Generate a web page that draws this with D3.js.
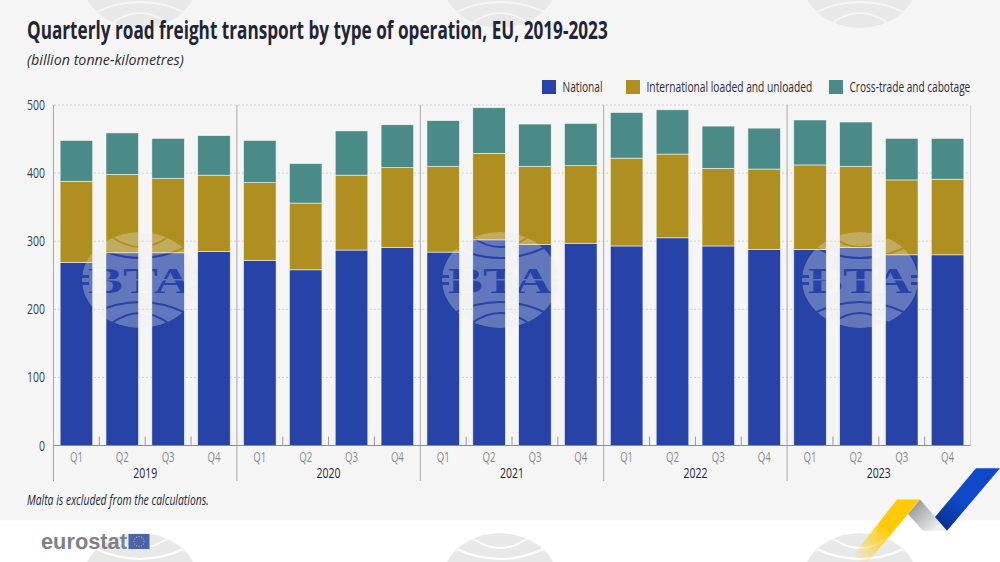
<!DOCTYPE html>
<html>
<head>
<meta charset="utf-8">
<script src="https://cdn.jsdelivr.net/npm/d3@7"></script>
<style>
  html, body { margin: 0; padding: 0; background: #fff; }
  svg { display: block; }
  text { font-family: "Open Sans", "Noto Sans", sans-serif; }
</style>
</head>
<body>
<svg id="chart" width="1000" height="562"></svg>
<script>
var years = ["2019", "2020", "2021", "2022", "2023"];
var quarters = ["Q1", "Q2", "Q3", "Q4"];
var seriesNames = ["National", "International loaded and unloaded", "Cross-trade and cabotage"];
var yTicks = [0, 100, 200, 300, 400, 500];

var national = [269, 283, 283, 285, 272, 258, 287, 291, 284, 302, 295, 297, 293, 305, 293, 288, 288, 291, 280, 280];
var international = [119, 115, 109, 112, 114, 98, 110, 117, 126, 127, 115, 114, 129, 123, 114, 118, 124, 119, 110, 111];
var crossTrade = [60, 61, 59, 58, 62, 58, 65, 63, 67, 67, 62, 62, 67, 65, 62, 60, 66, 65, 61, 60];

var colors = ["#2743a8", "#ae8f20", "#4a8b88"];

var svg = d3.select("#chart");
var defs = svg.append("defs");

var keys = [];
years.forEach(function(y) {
  quarters.forEach(function(q) { keys.push(y + q); });
});

var rows = keys.map(function(k, i) {
  return { key: k, s0: national[i], s1: international[i], s2: crossTrade[i] };
});
var stacked = d3.stack().keys(["s0", "s1", "s2"])(rows);

var x = d3.scaleBand().domain(keys).range([53.5, 970.5]).paddingInner(0.29).paddingOuter(0.145);
var y = d3.scaleLinear().domain([0, 500]).range([445.5, 105]);
var step = x.step();
var left = function(k) { return x(k) - step * 0.145; };

// no condensed font here, so scale the text sideways to the wanted width
function squeeze(sel, width) {
  sel.each(function(d, i) {
    var t = d3.select(this);
    var w = typeof width === "function" ? width(d, i) : width;
    var px = +t.attr("x"), py = +t.attr("y");
    var k = w / this.getComputedTextLength();
    t.attr("x", 0).attr("y", 0)
      .attr("transform", "translate(" + px + "," + py + ") scale(" + k + ",1)");
  });
}

// page background
svg.append("rect").attr("width", 1000).attr("height", 562).attr("fill", "#fff");
svg.append("rect").attr("width", 1000).attr("height", 520.5).attr("fill", "#f5f5f5");

// agency stamp, the letters and arcs are cut out of the disc
var mask = defs.append("mask").attr("id", "stamp")
  .attr("maskUnits", "userSpaceOnUse")
  .attr("x", -70).attr("y", -60).attr("width", 140).attr("height", 120);
mask.append("ellipse").attr("rx", 58).attr("ry", 48).attr("fill", "#fff");
[[-46, -33, -11], [-28, -43, -23], [-46, 33, 11], [-28, 43, 23]].forEach(function(a) {
  mask.append("path")
    .attr("d", "M" + a[0] + "," + a[1] + "Q0," + a[2] + " " + (-a[0]) + "," + a[1])
    .attr("fill", "none").attr("stroke", "#000").attr("stroke-width", 2);
});
mask.append("text").attr("x", 0).attr("y", 13).attr("text-anchor", "middle")
  .attr("textLength", 104).attr("lengthAdjust", "spacingAndGlyphs")
  .style("font-family", "Liberation Serif").style("font-weight", "bold").style("font-size", "35px")
  .attr("fill", "#000").text("BTA");
mask.append("rect").attr("x", -60).attr("y", -1).attr("width", 120).attr("height", 1.5).attr("fill", "#fff");
mask.append("rect").attr("x", -58).attr("y", -5).attr("width", 7).attr("height", 3).attr("fill", "#000");
mask.append("rect").attr("x", -58).attr("y", 2).attr("width", 7).attr("height", 3).attr("fill", "#000");
mask.append("rect").attr("x", 51).attr("y", -5).attr("width", 7).attr("height", 3).attr("fill", "#000");
mask.append("rect").attr("x", 51).attr("y", 2).attr("width", 7).attr("height", 3).attr("fill", "#000");

function stamp(cx, cy, fill, opacity) {
  svg.append("g").attr("transform", "translate(" + cx + "," + cy + ")")
    .append("ellipse").attr("rx", 58).attr("ry", 48)
    .attr("fill", fill).attr("opacity", opacity).attr("mask", "url(#stamp)");
}

[140, 500, 860].forEach(function(cx) {
  stamp(cx, -20, "#e8e8e8", 1);
  stamp(cx, 581, "#e8e8e8", 1);
});

// gridlines
svg.append("g").selectAll("line").data(yTicks.slice(1)).join("line")
  .attr("x1", 54).attr("x2", 970)
  .attr("y1", function(d) { return y(d); }).attr("y2", function(d) { return y(d); })
  .attr("stroke", "#cfcfcf").attr("stroke-width", 1).attr("stroke-dasharray", "2,2");

// bars
svg.append("g").selectAll("g").data(stacked).join("g")
  .attr("fill", function(d, i) { return colors[i]; })
  .selectAll("rect").data(function(d) { return d; }).join("rect")
  .attr("x", function(d) { return x(d.data.key); })
  .attr("width", x.bandwidth())
  .attr("y", function(d) { return y(d[1]); })
  .attr("height", function(d) { return y(d[0]) - y(d[1]); })
  .attr("stroke", "#fff").attr("stroke-opacity", 0.75).attr("stroke-width", 0.7);

// quarter ticks inside the baseline
svg.append("g").selectAll("line").data(keys.filter(function(k, i) { return i % 4 !== 0; })).join("line")
  .attr("x1", left).attr("x2", left)
  .attr("y1", 436.5).attr("y2", 445.5)
  .attr("stroke", "#9a9a9a").attr("stroke-width", 1);

// year separators
var seps = years.map(function(yr) { return left(yr + "Q1"); }).concat([970.5]);
svg.append("g").selectAll("line").data(seps).join("line")
  .attr("x1", function(d) { return d; }).attr("x2", function(d) { return d; })
  .attr("y1", 105).attr("y2", function(d, i) { return i === 5 ? 445.5 : 481; })
  .attr("stroke", function(d, i) { return i === 5 ? "#d4d4d4" : "#a8a8a8"; }).attr("stroke-width", 1);

// baseline
svg.append("line").attr("x1", 53.5).attr("x2", 970.5).attr("y1", 445.5).attr("y2", 445.5)
  .attr("stroke", "#8c8c8c").attr("stroke-width", 1);

// stamps that lie over the plot
[140, 500, 860].forEach(function(cx) { stamp(cx, 280, "#eeeeee", 0.3); });

// axis labels
svg.append("g").selectAll("text").data(yTicks).join("text")
  .attr("x", 45).attr("y", function(d) { return y(d) + 5; })
  .attr("text-anchor", "end").attr("fill", "#3c4048").style("font-size", "15px")
  .text(function(d) { return d; })
  .call(squeeze, function(d) { return String(d).length * 6; });

svg.append("g").selectAll("text").data(keys).join("text")
  .attr("x", function(k) { return x(k) + x.bandwidth() / 2; }).attr("y", 462)
  .attr("text-anchor", "middle").attr("fill", "#8a8a8a").style("font-size", "15px")
  .text(function(k) { return k.slice(4); })
  .call(squeeze, 13);

svg.append("g").selectAll("text").data(years).join("text")
  .attr("x", function(yr) { return left(yr + "Q1") + step * 2; }).attr("y", 478)
  .attr("text-anchor", "middle").attr("fill", "#23283a").style("font-size", "15px")
  .text(function(yr) { return yr; })
  .call(squeeze, 24);

// legend
var legendX = [542, 626, 829];
var legendW = [40, 166, 121];
var legend = svg.append("g").selectAll("g").data(seriesNames).join("g")
  .attr("transform", function(d, i) { return "translate(" + legendX[i] + ",80)"; });
legend.append("rect").attr("width", 14).attr("height", 14)
  .attr("fill", function(d, i) { return colors[i]; });
legend.append("text").attr("x", 20.5).attr("y", 12)
  .attr("fill", "#2a2e3c").style("font-size", "15px")
  .text(function(d) { return d; })
  .call(squeeze, function(d, i) { return legendW[i]; });

// titles
svg.append("text").attr("x", 27).attr("y", 39).attr("fill", "#1f2535")
  .style("font-size", "25px").style("font-weight", "bold")
  .text("Quarterly road freight transport by type of operation, EU, 2019-2023")
  .call(squeeze, 581);
svg.append("text").attr("x", 27).attr("y", 65).attr("fill", "#2a2e3c")
  .style("font-size", "15px").style("font-style", "italic")
  .text("(billion tonne-kilometres)")
  .call(squeeze, 157);
svg.append("text").attr("x", 27).attr("y", 505).attr("fill", "#23283a")
  .style("font-size", "15px").style("font-style", "italic")
  .text("Malta is excluded from the calculations.")
  .call(squeeze, 182);

// eurostat logo
svg.append("text").attr("x", 41).attr("y", 549).attr("fill", "#7d8088")
  .style("font-family", "Liberation Sans").style("font-weight", "bold").style("font-size", "22px")
  .text("eurostat")
  .call(squeeze, 86);
svg.append("rect").attr("x", 128.5).attr("y", 534).attr("width", 21).attr("height", 15).attr("fill", "#4a64ab");
svg.append("g").selectAll("circle").data(d3.range(12)).join("circle")
  .attr("cx", function(d) { return 139 + 5 * Math.cos(d * Math.PI / 6); })
  .attr("cy", function(d) { return 541.5 + 5 * Math.sin(d * Math.PI / 6); })
  .attr("r", 0.55).attr("fill", "#e0c040");

// ribbon in the corner
function grad(id, x1, y1, x2, y2, stops) {
  var g = defs.append("linearGradient").attr("id", id).attr("gradientUnits", "userSpaceOnUse")
    .attr("x1", x1).attr("y1", y1).attr("x2", x2).attr("y2", y2);
  stops.forEach(function(s) {
    g.append("stop").attr("offset", s[0]).attr("stop-color", s[1]).attr("stop-opacity", s[2]);
  });
}
grad("gYellow", 905, 515, 858, 562, [[0, "#ffcb05", 1], [0.35, "#ffcb05", 1], [1, "#ffcb05", 0]]);
grad("gGrey", 912, 505, 935, 530, [[0, "#96989e", 1], [1, "#eeeeee", 1]]);
grad("gBlue", 985, 475, 945, 530, [[0, "#0f48c8", 1], [0.55, "#0f48c8", 1], [1, "#0a2f8c", 1]]);
svg.append("polygon").attr("points", "920,499.5 947,530.7 923,530.7 908,514").attr("fill", "url(#gGrey)");
svg.append("polygon").attr("points", "897,499.5 920,499.5 868,562 848,562").attr("fill", "url(#gYellow)");
svg.append("polygon").attr("points", "976,468.3 1000,468.3 947,530.7 935,517").attr("fill", "url(#gBlue)");
</script>
</body>
</html>
